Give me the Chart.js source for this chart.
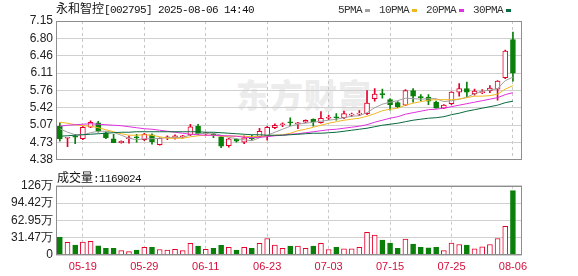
<!DOCTYPE html>
<html><head><meta charset="utf-8">
<script src="https://cdn.jsdelivr.net/npm/chart.js@4.4.1/dist/chart.umd.min.js"></script>
<style>
html,body{margin:0;padding:0;background:#fff;}
#wrap{position:relative;width:578px;height:276px;overflow:hidden;}
.t{position:absolute;white-space:nowrap;font-size:12px;line-height:14px;color:#111;}
.cjk{font-family:"Noto Sans CJK SC",sans-serif;font-size:12px;}
.asc{font-family:"Liberation Mono",monospace;font-size:11px;letter-spacing:-0.6px;}
.sw{display:inline-block;width:5px;height:3px;vertical-align:middle;margin-left:3px;margin-right:9px;}
canvas{position:absolute;left:0;}
#wm{position:absolute;left:236px;top:70px;font-family:"Noto Sans CJK SC",sans-serif;font-weight:900;font-size:33px;color:#ececec;letter-spacing:1px;}
</style></head><body>
<div id="wrap">
<div id="wm">东方财富</div>
<canvas id="pc" width="578" height="170" style="top:0"></canvas>
<canvas id="vc" width="578" height="106" style="top:170px"></canvas>
<div class="t" style="left:56px;top:1px"><span class="cjk">永和智控</span><span class="asc">[002795] 2025-08-06 14:40</span></div>
<div class="t" id="leg" style="left:338px;top:2px;color:#333"></div>
<div class="t" style="left:57px;top:170px"><span class="cjk">成交量</span><span class="asc">:1169024</span></div>
</div>
<script>
const dates = ["05-14","05-15","05-16","05-19","05-20","05-21","05-22","05-23","05-26","05-27","05-28","05-29","05-30","06-03","06-04","06-05","06-06","06-09","06-10","06-11","06-12","06-13","06-16","06-17","06-18","06-19","06-20","06-23","06-24","06-25","06-26","06-27","06-30","07-01","07-02","07-03","07-04","07-07","07-08","07-09","07-10","07-11","07-14","07-15","07-16","07-17","07-18","07-21","07-22","07-23","07-24","07-25","07-28","07-29","07-30","07-31","08-01","08-04","08-05","08-06"];
const opens  = [5.05,4.81,4.84,4.80,5.03,5.12,4.92,4.80,4.72,4.80,4.83,4.78,4.88,4.68,4.82,4.81,4.84,4.88,5.05,4.90,4.88,4.84,4.66,4.79,4.73,4.81,4.84,4.85,5.02,5.08,5.13,5.10,5.13,5.19,5.12,5.21,5.24,5.22,5.27,5.29,5.30,5.60,5.70,5.58,5.52,5.47,5.76,5.64,5.63,5.53,5.41,5.50,5.73,5.80,5.70,5.72,5.76,5.79,6.02,6.78];
const highs  = [5.12,4.83,4.89,5.05,5.16,5.15,4.94,4.89,4.76,4.86,4.89,4.91,4.90,4.82,4.86,4.88,4.87,5.09,5.09,4.93,4.91,4.87,4.81,4.80,4.86,4.87,5.01,5.05,5.10,5.12,5.22,5.13,5.18,5.20,5.34,5.27,5.30,5.35,5.31,5.36,5.76,5.80,5.79,5.60,5.54,5.78,5.80,5.68,5.68,5.55,5.48,5.74,5.90,5.93,5.79,5.78,5.86,5.96,6.57,6.93];
const lows   = [4.75,4.64,4.70,4.78,5.02,4.93,4.80,4.72,4.71,4.71,4.73,4.76,4.69,4.67,4.78,4.79,4.81,4.86,4.88,4.87,4.82,4.62,4.63,4.73,4.70,4.77,4.82,4.77,5.00,5.04,5.06,5.00,5.12,5.05,5.11,5.18,5.17,5.20,5.24,5.26,5.28,5.55,5.61,5.37,5.42,5.46,5.53,5.56,5.48,5.41,5.40,5.48,5.65,5.63,5.67,5.70,5.72,5.57,6.00,5.95];
const closes = [4.80,4.82,4.83,5.03,5.13,4.95,4.82,4.72,4.75,4.81,4.82,4.89,4.74,4.81,4.83,4.86,4.85,5.04,4.90,4.91,4.87,4.65,4.80,4.75,4.82,4.80,4.95,5.03,5.07,5.09,5.12,5.12,5.17,5.14,5.21,5.22,5.22,5.30,5.28,5.30,5.51,5.69,5.68,5.48,5.44,5.76,5.65,5.62,5.55,5.41,5.47,5.73,5.80,5.73,5.75,5.74,5.81,5.95,6.55,6.11];
const volumes = [32,23,18,23.6,25,16.5,12,12,8,6.2,9,14,14,10,9,10.5,8,21,16,10.5,12,17.6,14,9,14,12,21,30,18,12,16,16,12,16,21,10,14,11,11,14,41,36,27,21.5,12,29,20,14,13,14,8,21.5,19,18,11,15,19,30,52,116.9024];
const ma5  = [5.00,4.93,4.88,4.88,4.92,4.95,4.95,4.93,4.87,4.81,4.78,4.80,4.80,4.81,4.82,4.83,4.82,4.88,4.90,4.91,4.91,4.87,4.83,4.80,4.78,4.76,4.82,4.87,4.93,4.99,5.05,5.09,5.11,5.13,5.15,5.17,5.19,5.22,5.25,5.26,5.32,5.42,5.49,5.53,5.56,5.61,5.60,5.59,5.60,5.60,5.54,5.56,5.59,5.63,5.70,5.75,5.77,5.80,5.96,6.03];
const ma10 = [5.13,5.11,5.08,5.06,5.05,5.02,4.98,4.94,4.90,4.87,4.87,4.88,4.87,4.84,4.81,4.81,4.81,4.84,4.86,4.87,4.87,4.85,4.85,4.85,4.85,4.84,4.85,4.85,4.87,4.88,4.91,4.96,4.99,5.03,5.07,5.11,5.14,5.17,5.19,5.21,5.25,5.30,5.36,5.39,5.41,5.47,5.51,5.54,5.57,5.58,5.58,5.58,5.59,5.62,5.65,5.65,5.66,5.69,5.79,5.86];
const ma20 = [5.05,5.07,5.08,5.09,5.10,5.09,5.08,5.07,5.06,5.04,5.02,5.00,4.99,4.97,4.95,4.93,4.91,4.89,4.88,4.87,4.87,4.86,4.86,4.85,4.83,4.82,4.83,4.84,4.86,4.87,4.89,4.90,4.92,4.94,4.96,4.98,4.99,5.01,5.03,5.05,5.08,5.13,5.17,5.21,5.24,5.29,5.32,5.35,5.38,5.39,5.41,5.44,5.47,5.50,5.53,5.56,5.59,5.62,5.68,5.72];
const ma30 = [4.85,4.86,4.87,4.88,4.89,4.90,4.91,4.92,4.93,4.93,4.94,4.94,4.94,4.94,4.94,4.94,4.94,4.94,4.94,4.93,4.93,4.92,4.91,4.90,4.89,4.88,4.88,4.87,4.87,4.87,4.88,4.89,4.90,4.91,4.91,4.92,4.93,4.95,4.97,4.99,5.01,5.04,5.07,5.09,5.11,5.14,5.17,5.19,5.21,5.22,5.24,5.28,5.31,5.35,5.38,5.41,5.44,5.47,5.52,5.55];
const priceTicks = [4.38,4.72625,5.0725,5.41875,5.765,6.11125,6.4575,6.80375,7.15];
const volTicks = [0,31.47,62.94,94.41,125.88];
const volTickLabels = ["0","31.47万","62.95万","94.42万","126万"];
const dateTickIdx = [3,11,19,27,35,43,51,59];
const maNames = ["5PMA","10PMA","20PMA","30PMA"];
const maColors = ["#a0a0a0","#f0b820","#e030e0","#0a6a40"];

const RED = "#e4002b", GREEN = "#0a7f0a";
const up = closes.map((c,i)=> c >= opens[i]);
const cCol = up.map(u=> u?RED:GREEN);
const cBg = up.map(u=> u?"#ffffff":GREEN);

const leg = document.getElementById('leg');
leg.innerHTML = maNames.map((n,i)=>`<span class="asc">${n}</span><span class="sw" style="background:${maColors[i]}"></span>`).join('');

Chart.defaults.font.family = '"Liberation Sans", Arial, sans-serif';
Chart.defaults.font.size = 12;

const frame = {id:'frame', afterDraw(chart){
  const a = chart.chartArea, c = chart.ctx;
  c.save(); c.strokeStyle = '#8e8e8e'; c.lineWidth = 1;
  c.strokeRect(Math.round(a.left)+0.5, Math.round(a.top)+0.5, Math.round(a.right-a.left)-1, Math.round(a.bottom-a.top)-1);
  c.restore();
}};

const xBase = (showLabels)=>({
  type:'linear', min:-0.5, max:60.18, offset:false,
  afterBuildTicks: s=>{ s.ticks = dateTickIdx.map(v=>({value:v})); },
  ticks:{display:showLabels, autoSkip:false, maxRotation:0, padding:5, color:'#d4103c',
         font:{size:11}, callback:(v)=>dates[v]},
  grid:{color:'#c8c8c8', drawTicks:false, offset:false},
  border:{display:false, dash:[3,3]},
  afterFit: s=>{ s.height = showLabels ? 21 : 0; }
});

new Chart(document.getElementById('pc'), {
  data:{datasets:[
    {type:'bar', data: highs.map((h,i)=>({x:i, y:[lows[i],h]})), backgroundColor:cCol, borderWidth:0, barThickness:1, grouped:false, order:5},
    {type:'bar', data: opens.map((o,i)=>({x:i, y:[o,closes[i]]})), backgroundColor:cBg, borderColor:cCol, borderWidth:1, borderSkipped:false, barThickness:5, minBarLength:1, grouped:false, order:4},
    ...[ma5,ma10,ma20,ma30].map((arr,k)=>({type:'line', data: arr.map((v,i)=>({x:i,y:v})), borderColor:maColors[k], borderWidth:1, pointRadius:0, tension:0, order:3-k}))
  ]},
  options:{
    responsive:false, animation:false, devicePixelRatio:1,
    layout:{padding:{left:0,right:56,top:21,bottom:5}},
    plugins:{legend:{display:false}, tooltip:{enabled:false}},
    scales:{
      x: xBase(false),
      y:{min:4.38, max:7.15,
         afterBuildTicks: s=>{ s.ticks = priceTicks.map(v=>({value:v})); },
         ticks:{padding:3, color:'#222', autoSkip:false, callback:(v)=>v.toFixed(2)},
         grid:{color:'#d0d0d0', drawTicks:false},
         border:{display:false},
         afterFit: s=>{ s.width = 56; }}
    }
  },
  plugins:[frame]
});

new Chart(document.getElementById('vc'), {
  type:'bar',
  data:{datasets:[
    {data: volumes.map((v,i)=>({x:i,y:v})), backgroundColor: up.map(u=>u?'#ffffff':GREEN), borderColor: cCol, borderWidth:1, borderSkipped:'start', barThickness:5}
  ]},
  options:{
    responsive:false, animation:false, devicePixelRatio:1,
    layout:{padding:{left:0,right:56,top:15.7,bottom:0}},
    plugins:{legend:{display:false}, tooltip:{enabled:false}},
    scales:{
      x: xBase(true),
      y:{min:0, max:125.88,
         afterBuildTicks: s=>{ s.ticks = volTicks.map(v=>({value:v})); },
         ticks:{padding:3, color:'#222', autoSkip:false, callback:(v,i)=>volTickLabels[i]},
         grid:{color:'#d0d0d0', drawTicks:false},
         border:{display:false},
         afterFit: s=>{ s.width = 56; }}
    }
  },
  plugins:[frame]
});
</script>
</body></html>
